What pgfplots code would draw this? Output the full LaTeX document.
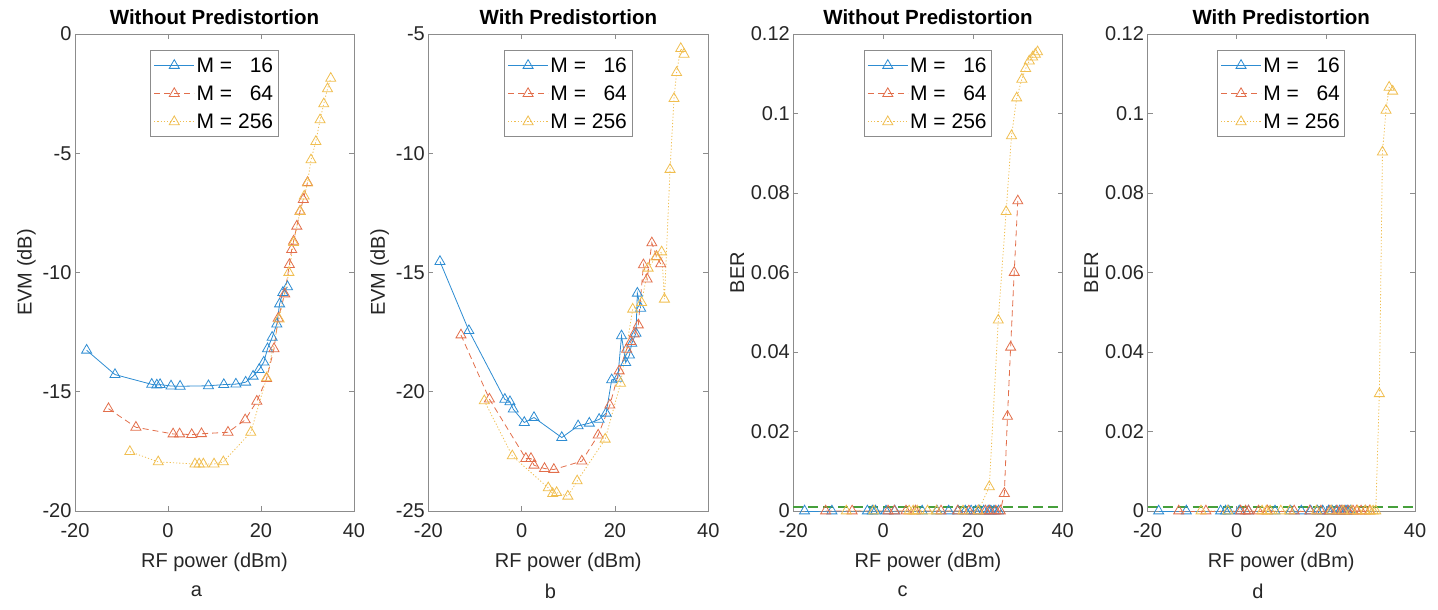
\documentclass[border=0pt]{standalone}
\usepackage{fontspec}
\setmainfont{Liberation Sans}
\usepackage{pgfplots}
\pgfplotsset{compat=1.18}
\definecolor{mblue}{RGB}{45,140,210}
\definecolor{morange}{RGB}{226,110,75}
\definecolor{myellow}{RGB}{240,190,80}
\definecolor{mgreen}{RGB}{70,160,60}
\definecolor{axgray}{RGB}{140,140,140}
\definecolor{tgray}{RGB}{38,38,38}
\pgfplotsset{
  myaxis/.style={
    scale only axis, height=477bp, anchor=south west,
    xmin=-20, xmax=40, xtick={-20,0,20,40},
    tick align=inside, tick pos=both, major tick length=5bp,
    axis line style={draw=axgray, line width=0.8bp},
    every tick/.style={draw=axgray, line width=0.6bp},
    font=\fontsize{20bp}{24bp}\selectfont,
    ticklabel style={text=tgray},
    /pgf/number format/assume math mode=true,
    xticklabel style={yshift=-9bp},
    xlabel={RF power (dBm)},
    xlabel style={at={(axis description cs:0.5,0)}, anchor=center, yshift=-51bp, text=tgray},
    ylabel style={text=tgray},
    title style={at={(axis description cs:0.5,1)}, anchor=center, yshift=11bp, font=\fontsize{20.5bp}{24bp}\selectfont\bfseries},
    clip=false,
    legend style={at={(0.5,1)}, anchor=north, yshift=-16bp, draw=axgray, line width=0.8bp,
      font=\fontsize{21bp}{25bp}\selectfont, text=black, inner xsep=3bp, inner ysep=5bp,
      row sep=8bp},
    legend cell align=left,
    legend image code/.code={\draw[mark repeat=2,mark phase=2,##1] plot coordinates {(0bp,0bp) (20bp,0bp) (40bp,0bp)};},
  },
  s16/.style={mblue, solid, line width=0.8bp, mark=triangle, mark size=5.8bp, mark options={solid, line width=0.8bp}},
  s64/.style={morange, dashed, dash pattern=on 6bp off 4bp, line width=0.8bp, mark=triangle, mark size=5.8bp, mark options={solid, line width=0.8bp}},
  s256/.style={myellow, dotted, dash pattern=on 1.2bp off 2bp, line width=0.8bp, mark=triangle, mark size=5.8bp, mark options={solid, line width=0.8bp}},
  thr/.style={mgreen, line width=2.2bp, dash pattern=on 10bp off 5bp, forget plot},
}
\begin{document}
\begin{tikzpicture}
\path[use as bounding box] (0,0) rectangle (1438bp,610bp);
% ---------------- a
\begin{axis}[myaxis, at={(75bp,99bp)}, width=279bp,
  ymin=-20, ymax=0, ytick={-20,-15,-10,-5,0},
  ylabel={EVM (dB)}, title={Without Predistortion}]
\addplot[s16] coordinates {(-17.5,-13.26)(-11.4,-14.28)(-3.5,-14.69)(-2.4,-14.72)(-1.7,-14.70)(0.65,-14.76)(2.6,-14.77)(8.7,-14.75)(12.0,-14.70)(14.6,-14.68)(16.7,-14.60)(18.3,-14.35)(19.6,-14.07)(20.6,-13.76)(21.4,-13.20)(22.4,-12.72)(23.4,-12.16)(24.0,-11.32)(24.7,-10.84)(25.7,-10.60)};
\addlegendentry{M = \phantom{2}16}
\addplot[s64] coordinates {(-12.8,-15.71)(-6.9,-16.49)(1.1,-16.77)(2.5,-16.77)(5.1,-16.80)(7.2,-16.76)(12.9,-16.70)(16.6,-16.18)(19.1,-15.40)(21.2,-14.45)(22.8,-13.20)(23.7,-11.92)(25.1,-10.90)(26.1,-9.67)(26.6,-9.04)(27.0,-8.69)(27.7,-8.06)(28.4,-7.43)(29.1,-6.94)(30.0,-6.23)};
\addlegendentry{M = \phantom{2}64}
\addplot[s256] coordinates {(-8.2,-17.51)(-2.1,-17.94)(5.8,-18.03)(6.7,-18.03)(7.6,-18.03)(9.9,-18.03)(11.9,-17.94)(17.8,-16.70)(21.2,-14.42)(23.9,-11.95)(26.0,-10.0)(27.0,-8.75)(28.4,-7.45)(29.3,-6.8)(30.0,-6.25)(30.75,-5.28)(31.8,-4.51)(32.7,-3.60)(33.5,-2.93)(34.3,-2.30)(35.0,-1.86)};
\addlegendentry{M = 256}
\end{axis}
% ---------------- b
\begin{axis}[myaxis, at={(428.3bp,99bp)}, width=280bp,
  ymin=-25, ymax=-5, ytick={-25,-20,-15,-10,-5},
  ylabel={EVM (dB)}, title={With Predistortion}]
\addplot[s16] coordinates {(-17.5,-14.54)(-11.3,-17.44)(-3.6,-20.32)(-2.5,-20.42)(-1.8,-20.73)(0.57,-21.29)(2.65,-21.08)(8.6,-21.92)(12.1,-21.43)(14.5,-21.32)(16.6,-21.16)(18.1,-20.90)(19.3,-19.50)(20.6,-19.44)(21.4,-17.66)(22.3,-18.78)(23.1,-18.46)(23.6,-17.97)(24.5,-17.55)(24.8,-15.87)(25.5,-16.50)};
\addlegendentry{M = \phantom{2}16}
\addplot[s64] coordinates {(-13.0,-17.62)(-6.9,-20.31)(0.9,-22.80)(2.0,-22.80)(2.65,-23.08)(4.9,-23.22)(6.9,-23.26)(12.9,-22.91)(16.4,-21.82)(18.9,-20.56)(20.9,-19.13)(22.5,-18.22)(23.4,-17.90)(24.1,-17.58)(25.0,-17.20)(26.1,-14.68)(26.9,-15.28)(27.9,-13.76)(28.9,-14.33)(29.8,-14.64)};
\addlegendentry{M = \phantom{2}64}
\addplot[s256] coordinates {(-8.0,-20.38)(-2.0,-22.69)(5.7,-24.03)(6.65,-24.27)(7.5,-24.23)(9.9,-24.38)(11.9,-23.74)(17.9,-21.99)(21.2,-19.65)(23.8,-16.54)(25.7,-16.26)(27.1,-14.82)(28.8,-14.35)(30.0,-14.14)(30.6,-16.12)(31.8,-10.68)(32.65,-7.71)(33.2,-6.62)(34.1,-5.61)(34.8,-5.85)};
\addlegendentry{M = 256}
\end{axis}
% ---------------- c
\begin{axis}[myaxis, at={(793.3bp,99bp)}, width=269.4bp,
  ymin=0, ymax=0.12, ytick={0,0.02,0.04,0.06,0.08,0.1,0.12},
  scaled y ticks=false, yticklabel style={/pgf/number format/fixed, /pgf/number format/precision=2},
  ylabel={BER}, title={Without Predistortion}]
\addplot[s16] coordinates {(-17.5,0)(-11.4,0)(-3.5,0)(-2.4,0)(-1.7,0)(0.65,0)(2.6,0)(8.7,0)(12.0,0)(14.6,0)(16.7,0)(18.3,0)(19.6,0)(20.6,0)(21.4,0)(22.4,0)(23.4,0)(24.0,0)(24.7,0)(25.7,0)};
\addlegendentry{M = \phantom{2}16}
\addplot[s64] coordinates {(-12.8,0)(-6.9,0)(1.1,0)(2.5,0)(5.1,0)(7.2,0)(12.9,0)(16.6,0)(19.1,0)(21.2,0)(22.8,0)(23.7,0)(25.1,0)(26.1,0)(27.0,0.0044)(27.7,0.0238)(28.4,0.0412)(29.2,0.0600)(30.0,0.0780)};
\addlegendentry{M = \phantom{2}64}
\addplot[s256] coordinates {(-8.2,0)(-2.1,0)(5.8,0)(6.7,0)(7.6,0)(9.9,0)(11.9,0)(17.8,0)(21.2,0)(23.65,0.0061)(25.65,0.0480)(27.4,0.0753)(28.6,0.0944)(29.75,0.1039)(30.9,0.1086)(31.75,0.1113)(32.55,0.1132)(33.3,0.1142)(33.9,0.1149)(34.4,0.1155)};
\addlegendentry{M = 256}
\addplot[thr] coordinates {(-20,0.001)(40,0.001)};
\end{axis}
% ---------------- d
\begin{axis}[myaxis, at={(1147.5bp,99bp)}, width=267.5bp,
  ymin=0, ymax=0.12, ytick={0,0.02,0.04,0.06,0.08,0.1,0.12},
  scaled y ticks=false, yticklabel style={/pgf/number format/fixed, /pgf/number format/precision=2},
  ylabel={BER}, title={With Predistortion}]
\addplot[s16] coordinates {(-17.5,0)(-11.3,0)(-3.6,0)(-2.5,0)(-1.8,0)(0.57,0)(2.65,0)(8.6,0)(12.1,0)(14.5,0)(16.6,0)(18.1,0)(19.3,0)(20.6,0)(21.4,0)(22.3,0)(23.1,0)(23.6,0)(24.5,0)(24.8,0)(25.5,0)};
\addlegendentry{M = \phantom{2}16}
\addplot[s64] coordinates {(-13.0,0)(-6.9,0)(0.9,0)(2.0,0)(2.65,0)(4.9,0)(6.9,0)(12.9,0)(16.4,0)(18.9,0)(20.9,0)(22.5,0)(23.4,0)(24.1,0)(25.0,0)(26.1,0)(26.9,0)(27.9,0)(28.9,0)(29.8,0)};
\addlegendentry{M = \phantom{2}64}
\addplot[s256] coordinates {(-8.0,0)(-2.0,0)(5.7,0)(6.65,0)(7.5,0)(9.9,0)(11.9,0)(17.9,0)(21.2,0)(23.8,0)(25.7,0)(27.1,0)(28.8,0)(30.0,0)(30.6,0)(31.2,0)(32.0,0.0295)(32.7,0.0903)(33.5,0.1008)(34.2,0.1066)(35.0,0.1056)};
\addlegendentry{M = 256}
\addplot[thr] coordinates {(-20,0.001)(40,0.001)};
\end{axis}
\begin{scope}[font=\fontsize{20bp}{24bp}\selectfont]
\node[text=tgray] at (196.5bp,19bp) {a};
\node[text=tgray] at (550.5bp,19bp) {b};
\node[text=tgray] at (902.5bp,19bp) {c};
\node[text=tgray] at (1258bp,19bp) {d};
\end{scope}
\end{tikzpicture}
\end{document}
